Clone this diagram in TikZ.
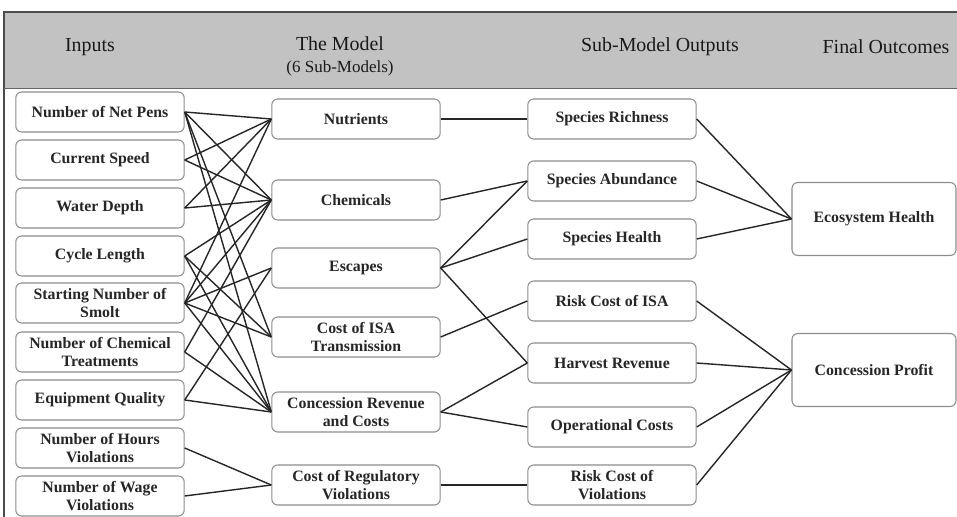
\documentclass[tikz,border=0pt]{standalone}
\usepackage{fontspec}
\setmainfont{Liberation Serif}
\usepackage{tikz}

\begin{document}
\begin{tikzpicture}[x=0.03cm,y=-0.03cm,
    box/.style={draw=black!45,line width=0.9pt,rounded corners=5pt,fill=white,
      minimum width=5.05cm,minimum height=1.2cm,inner sep=1pt,align=center,
      font=\bfseries\fontsize{13.5}{15.5}\selectfont,text=black!85},
    bigbox/.style={box,minimum width=4.92cm,minimum height=2.19cm},
    head/.style={font=\fontsize{17}{20}\selectfont,text=black!90},
    link/.style={line width=1.2pt,black!85}]
  \useasboundingbox (0,0) rectangle (957,517);
  % header band
  \fill[black!24] (4,12) rectangle (957,88);
  \draw[black!70,line width=1pt] (4,517) -- (4,12) -- (957,12);
  \draw[black!60,line width=0.8pt] (4,88) -- (957,88);
  \node[head] (hin) at (90,47) {Inputs};
  \node[head] (hmod) at (340,44) {The Model};
  \node[head,font=\fontsize{14.5}{17}\selectfont] (hsub) at (340,68) {(6 Sub-Models)};
  \node[head] (hout) at (660,47) {Sub-Model Outputs};
  \node[head] (hfin) at (886,47) {Final Outcomes};
  % inputs
  \node[box] (np) at (100,112) {Number of Net Pens};
  \node[box] (cs) at (100,160) {Current Speed};
  \node[box] (wd) at (100,208) {Water Depth};
  \node[box] (cl) at (100,256) {Cycle Length};
  \node[box] (ss) at (100,303) {Starting Number of\\Smolt};
  \node[box] (ct) at (100,352) {Number of Chemical\\Treatments};
  \node[box] (eq) at (100,400) {Equipment Quality};
  \node[box] (hv) at (100,448) {Number of Hours\\Violations};
  \node[box] (wv) at (100,496) {Number of Wage\\Violations};
  % sub-models
  \node[box] (nu) at (356,119) {Nutrients};
  \node[box] (ch) at (356,200) {Chemicals};
  \node[box] (es) at (356,268) {Escapes};
  \node[box] (ci) at (356,337) {Cost of ISA\\Transmission};
  \node[box] (cr) at (356,412) {Concession Revenue\\and Costs};
  \node[box] (rv) at (356,485) {Cost of Regulatory\\Violations};
  % sub-model outputs
  \node[box] (sr) at (612,119) {Species Richness};
  \node[box] (sa) at (612,181) {Species Abundance};
  \node[box] (sh) at (612,239) {Species Health};
  \node[box] (rci) at (612,301) {Risk Cost of ISA};
  \node[box] (hr) at (612,363) {Harvest Revenue};
  \node[box] (oc) at (612,427) {Operational Costs};
  \node[box] (rcv) at (612,485) {Risk Cost of\\Violations};
  % final outcomes
  \node[bigbox] (eh) at (874,219) {Ecosystem Health};
  \node[bigbox] (cp) at (874,370) {Concession Profit};
  % links
  \foreach \a/\b in {np/nu,np/ch,np/ci,np/cr,cs/nu,cs/ch,wd/nu,wd/ch,
      cl/ch,cl/ci,cl/cr,ss/nu,ss/ch,ss/es,ss/ci,ss/cr,ct/ch,ct/cr,
      eq/es,eq/cr,hv/rv,wv/rv}
    \draw[link] (\a.east) -- (\b.west);
  \foreach \a/\b in {nu/sr,ch/sa,es/sa,es/sh,es/hr,ci/rci,cr/hr,cr/oc,rv/rcv}
    \draw[link] (\a.east) -- (\b.west);
  \foreach \a/\b in {sr/eh,sa/eh,sh/eh,rci/cp,hr/cp,oc/cp,rcv/cp}
    \draw[link] (\a.east) -- (\b.west);
\end{tikzpicture}
\end{document}
